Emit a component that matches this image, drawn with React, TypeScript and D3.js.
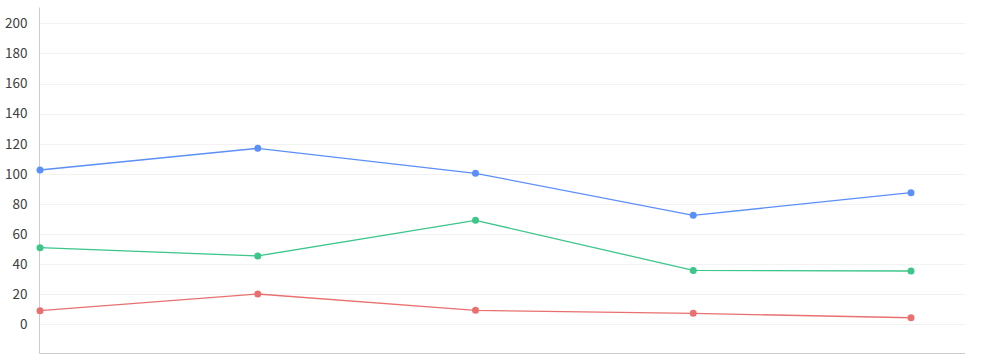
import React from "react";
import * as d3 from "d3";

// Five sampled points per series
const categories = ["P1", "P2", "P3", "P4", "P5"];
const blueSeries = [102.5, 116.9, 100.3, 72.3, 87.4];
const greenSeries = [50.8, 45.3, 69.0, 35.7, 35.3];
const redSeries = [8.9, 20.0, 9.1, 7.1, 4.2];
const yTicks = [0, 20, 40, 60, 80, 100, 120, 140, 160, 180, 200];

const series = [
  { name: "blue", values: blueSeries, color: "#5b8ff9" },
  { name: "green", values: greenSeries, color: "#3cc68a" },
  { name: "red", values: redSeries, color: "#e8716f" },
];

const W = 988;
const H = 362;
const left = 39.5;
const right = 965;
const top = 7.5;
const bottom = 353.5;

export default function App() {
  const x = d3
    .scalePoint<string>()
    .domain(categories)
    .range([40, 911]);
  const y = d3.scaleLinear().domain([-19.6, 210.6]).range([bottom, top]);
  const line = d3
    .line<number>()
    .x((_, i) => x(categories[i]) as number)
    .y((d) => y(d));

  return (
    <svg
      width={W}
      height={H}
      style={{ position: "absolute", left: 0, top: 0 }}
      fontFamily="'Noto Sans CJK SC', sans-serif"
    >
      {yTicks.map((t) => (
        <g key={t}>
          <line
            x1={left}
            x2={right}
            y1={Math.round(y(t)) + 0.5}
            y2={Math.round(y(t)) + 0.5}
            stroke="#f2f2f2"
            strokeWidth={1}
          />
          <text
            x={27.5}
            y={y(t)}
            dy="0.36em"
            textAnchor="end"
            fontSize={13.5}
            fill="#404040"
          >
            {t}
          </text>
        </g>
      ))}
      <line x1={left} x2={left} y1={top} y2={bottom} stroke="#cccccc" />
      <line x1={left} x2={right} y1={bottom} y2={bottom} stroke="#cccccc" />
      {series.map((s) => (
        <g key={s.name}>
          <path
            d={line(s.values) || ""}
            fill="none"
            stroke={s.color}
            strokeWidth={1.3}
          />
          {s.values.map((v, i) => (
            <circle
              key={i}
              cx={x(categories[i]) as number}
              cy={y(v)}
              r={3.5}
              fill={s.color}
            />
          ))}
        </g>
      ))}
    </svg>
  );
}
